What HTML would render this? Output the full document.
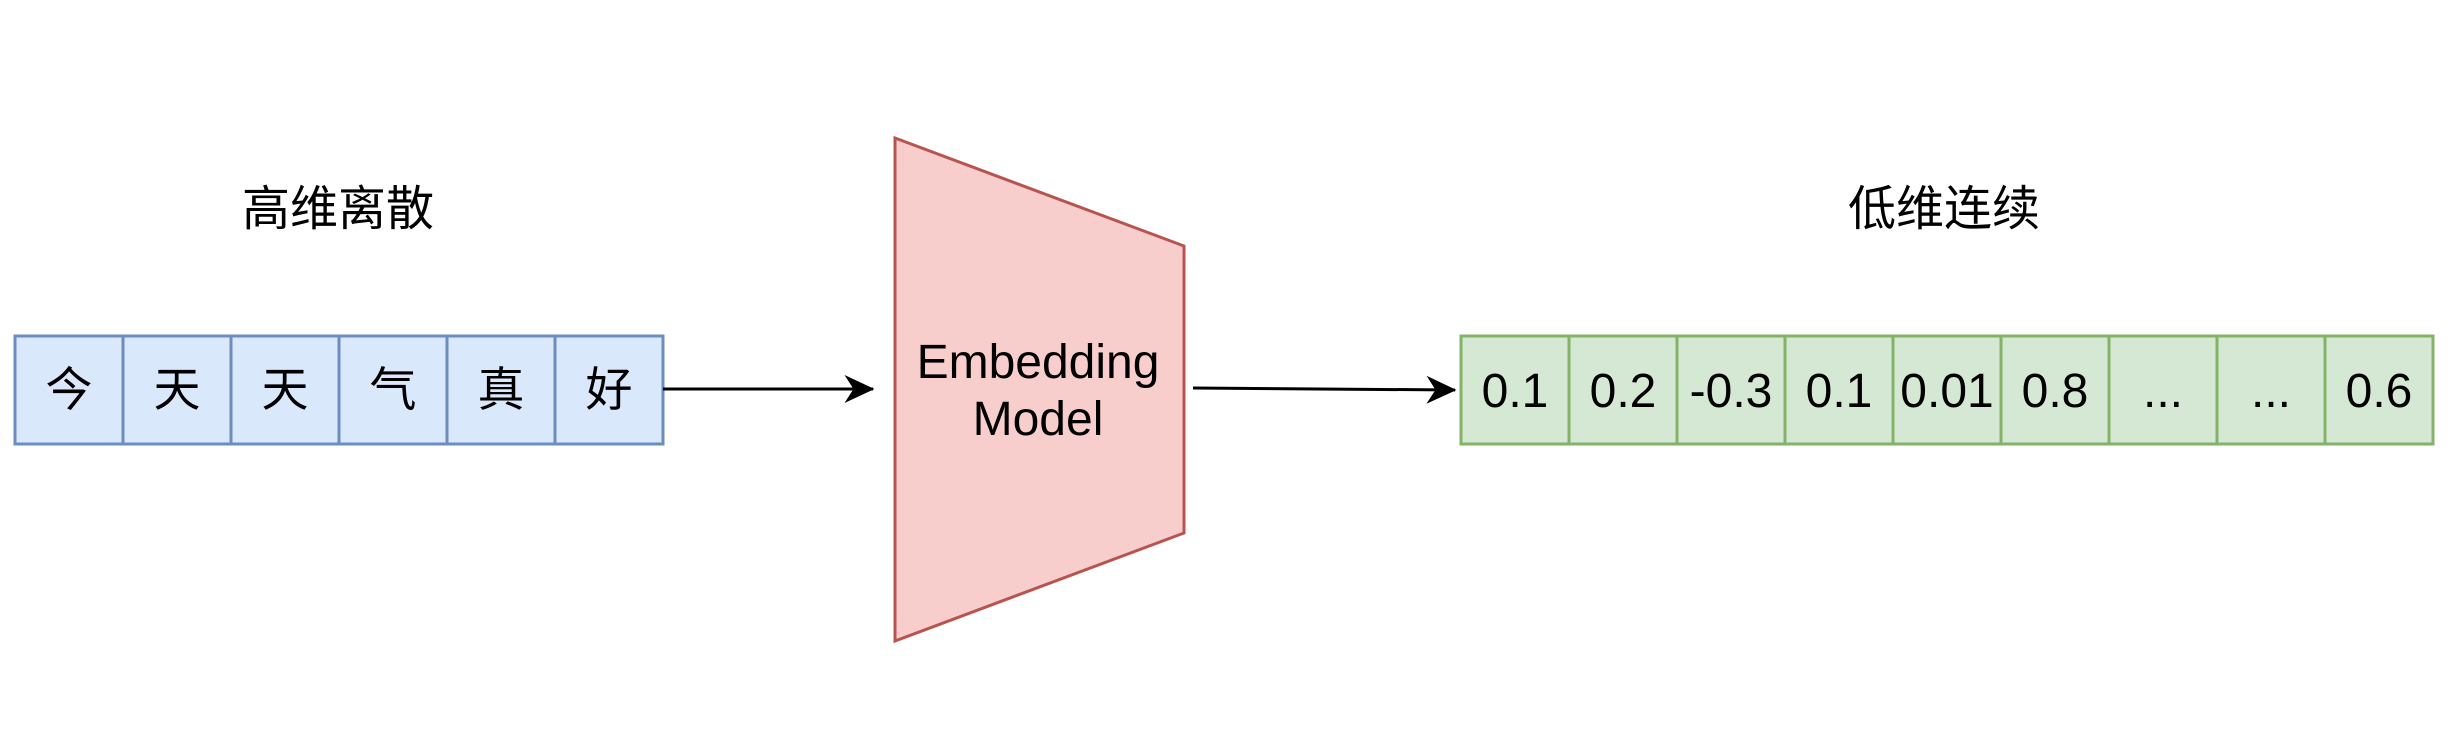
<!DOCTYPE html>
<html><head><meta charset="utf-8"><style>
html,body{margin:0;padding:0;background:#fff;}
svg text{font-family:"Liberation Sans","Noto Sans CJK SC",sans-serif;}
</style></head><body>
<svg width="2452" height="746" viewBox="0 0 2452 746" xmlns="http://www.w3.org/2000/svg">
<defs><marker id="ah" markerWidth="30" markerHeight="28" refX="9.5" refY="5" orient="auto" markerUnits="userSpaceOnUse" viewBox="0 0 10 10" preserveAspectRatio="none"><path d="M0,0 L10,5 L0,10 L3,5 Z" fill="#000"/></marker></defs>
<rect width="2452" height="746" fill="#fff"/>
<text x="338" y="225" font-size="48" text-anchor="middle" fill="#000">高维离散</text>
<text x="1944" y="225" font-size="48" text-anchor="middle" fill="#000">低维连续</text>
<g stroke="#6c8ebf" stroke-width="3" fill="#dae8fc">
<rect x="15" y="336" width="108" height="108"/><rect x="123" y="336" width="108" height="108"/><rect x="231" y="336" width="108" height="108"/><rect x="339" y="336" width="108" height="108"/><rect x="447" y="336" width="108" height="108"/><rect x="555" y="336" width="108" height="108"/>
</g>
<g font-size="47" text-anchor="middle" fill="#000">
<text x="69" y="406">今</text><text x="177" y="406">天</text><text x="285" y="406">天</text><text x="393" y="406">气</text><text x="501" y="406">真</text><text x="609" y="406">好</text>
</g>
<line x1="663" y1="389" x2="873" y2="389" stroke="#000" stroke-width="3" marker-end="url(#ah)"/>
<polygon points="895,138 1184,246 1184,533 895,641" fill="#f8cecc" stroke="#b85450" stroke-width="3"/>
<text x="1038" y="378" font-size="48" text-anchor="middle" fill="#000">Embedding</text>
<text x="1038" y="435" font-size="48" text-anchor="middle" fill="#000">Model</text>
<line x1="1193" y1="388" x2="1455" y2="390" stroke="#000" stroke-width="3" marker-end="url(#ah)"/>
<g stroke="#82b366" stroke-width="3" fill="#d5e8d4">
<rect x="1461" y="336" width="108" height="108"/><rect x="1569" y="336" width="108" height="108"/><rect x="1677" y="336" width="108" height="108"/><rect x="1785" y="336" width="108" height="108"/><rect x="1893" y="336" width="108" height="108"/><rect x="2001" y="336" width="108" height="108"/><rect x="2109" y="336" width="108" height="108"/><rect x="2217" y="336" width="108" height="108"/><rect x="2325" y="336" width="108" height="108"/>
</g>
<g font-size="48" text-anchor="middle" fill="#000">
<text x="1515" y="407">0.1</text><text x="1623" y="407">0.2</text><text x="1731" y="407">-0.3</text><text x="1839" y="407">0.1</text><text x="1947" y="407">0.01</text><text x="2055" y="407">0.8</text><text x="2163" y="407">...</text><text x="2271" y="407">...</text><text x="2379" y="407">0.6</text>
</g>
</svg>
</body></html>
